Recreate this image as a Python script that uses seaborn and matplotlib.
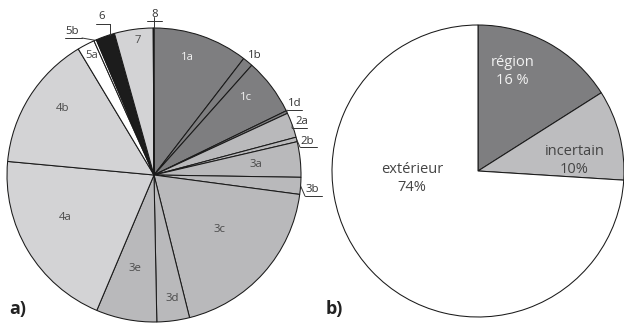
import numpy as np
import matplotlib
matplotlib.use("Agg")
import matplotlib.pyplot as plt
import seaborn as sns

sns.set_theme(style="white")
plt.rcParams["font.family"] = ["Open Sans", "DejaVu Sans"]

# ---- panel a: share of each class (degrees of the full circle) ----
classes_a = ["1a", "1b", "1c", "1d", "2a", "2b", "3a", "3b", "3c", "3d",
             "3e", "4a", "4b", "5a", "5b", "6", "7", "8"]
shares_a = [37.6, 4.1, 22.4, 1.1, 9.9, 1.8, 14.0, 6.7, 68.4, 12.9,
            24.0, 72.4, 53.7, 6.9, 1.0, 7.5, 15.3, 0.3]

# ---- panel b: origin of material (%) ----
classes_b = ["région", "incertain", "extérieur"]
shares_b = [16, 10, 74]
labels_b = ["région\n16 %", "incertain\n10%", "extérieur\n74%"]

DARK, MID, LIGHT, WHITE, BLACK = "#7e7e80", "#b9b9bb", "#d3d3d5", "#ffffff", "#1c1c1c"
group_colour = {"1": DARK, "2": MID, "3": MID, "4": LIGHT, "5": WHITE,
                "6": BLACK, "7": LIGHT, "8": LIGHT}
colours_a = [group_colour[c[0]] for c in classes_a]
colours_b = [DARK, "#bdbdbf", WHITE]

W, H = 624, 323
fig = plt.figure(figsize=(W / 100, H / 100), dpi=100)


def axes_for(cx, cy, r):
    return fig.add_axes([(cx - r) / W, (H - cy - r) / H, 2 * r / W, 2 * r / H])


wedge_style = dict(edgecolor="#1a1a1a", linewidth=0.75)

ax1 = axes_for(154, 175, 147)
ax1.pie(shares_a, colors=colours_a, startangle=90, counterclock=False,
        wedgeprops=wedge_style)
ax1.set_xlim(-1, 1)
ax1.set_ylim(-1, 1)
ax1.set_aspect("equal")
ax1.axis("off")

# mid angle of every wedge, clockwise from 12 o'clock
cum = np.cumsum([0] + shares_a)
total = cum[-1]
mid_deg = {c: (cum[i] + cum[i + 1]) / 2 / total * 360 for i, c in enumerate(classes_a)}


def polar(angle_deg, r):
    a = np.deg2rad(angle_deg)
    return r * np.sin(a), r * np.cos(a)


LABEL_SIZE = 8.2

# labels drawn inside their wedge: (class, radius, angle tweak)
inside = [("1a", 0.83, -3), ("1c", 0.82, -3), ("3a", 0.70, 0), ("3c", 0.58, -2),
          ("3d", 0.85, -1), ("3e", 0.65, 0.5), ("4a", 0.67, 5.5), ("4b", 0.77, 4),
          ("5a", 0.92, 0), ("7", 0.92, 1)]
for c, r, tweak in inside:
    x, y = polar(mid_deg[c] + tweak, r)
    col = "#f2f2f2" if colours_a[classes_a.index(c)] == DARK else "#4a4a4a"
    ax1.text(x, y, c, ha="center", va="center", fontsize=LABEL_SIZE, color=col)

# labels outside the circle, on a short underline joined to the wedge rim
# (class, underline x0, x1, y, text x, text y)
outside = [("8", -0.048, 0.054, 1.048, 0.003, 1.090),
           ("6", -0.395, -0.299, 1.027, -0.354, 1.075),
           ("5b", -0.605, -0.490, 0.932, -0.558, 0.973),
           ("1d", 0.905, 1.007, 0.442, 0.959, 0.483),
           ("2a", 0.939, 1.041, 0.320, 1.007, 0.361),
           ("2b", 0.993, 1.109, 0.190, 1.041, 0.231),
           ("3b", 1.027, 1.143, -0.143, 1.075, -0.102)]
line_kw = dict(color="#333333", linewidth=0.7, clip_on=False)
for c, x0, x1, yl, tx, ty in outside:
    ax, ay = polar(mid_deg[c], 1.0)
    ax1.plot([x0, x1], [yl, yl], **line_kw)
    if c == "8":
        ax1.plot([ax, ax], [ay, yl + 0.025], **line_kw)
    elif c == "6":
        # drop straight down from the end of the underline to the rim
        ax1.plot([x1, x1], [yl, np.cos(np.arcsin(x1))], **line_kw)
    else:
        end = x1 if ax < 0 else x0
        ax1.plot([ax, end], [ay, yl], **line_kw)
    ax1.text(tx, ty, c, ha="center", va="center", fontsize=LABEL_SIZE, color="#333333")

ax1.text(0.685, 0.810, "1b", ha="center", va="center", fontsize=LABEL_SIZE, color="#333333")

# ---- panel b ----
ax2 = axes_for(478, 171, 146)
ax2.pie(shares_b, colors=colours_b, startangle=90, counterclock=False,
        wedgeprops=wedge_style)
ax2.set_xlim(-1, 1)
ax2.set_ylim(-1, 1)
ax2.set_aspect("equal")
ax2.axis("off")

pos_b = [(0.235, 0.68), (0.66, 0.07), (-0.45, -0.05)]
text_col_b = ["#f2f2f2", "#444444", "#444444"]
for lab, (x, y), col in zip(labels_b, pos_b, text_col_b):
    ax2.text(x, y, lab, ha="center", va="center", fontsize=10.5, color=col,
             linespacing=1.3)

fig.text(9 / W, 1 - 309 / H, "a)", fontsize=13, fontweight="bold",
         ha="left", va="center", color="#222222")
fig.text(326 / W, 1 - 309 / H, "b)", fontsize=13, fontweight="bold",
         ha="left", va="center", color="#222222")

fig.savefig("out.png", dpi=100, facecolor="white")
